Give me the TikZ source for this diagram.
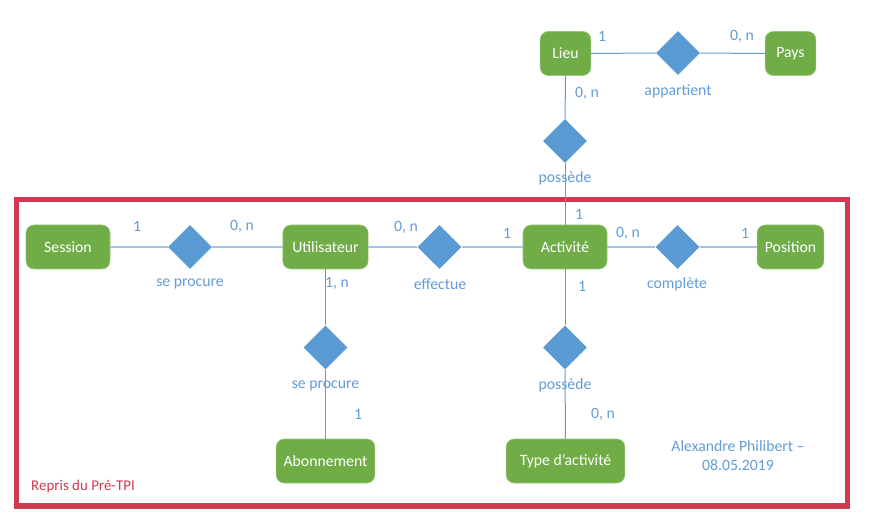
\documentclass[tikz,border=0pt]{standalone}
\usepackage{fontspec}
\setmainfont{Carlito}
\usetikzlibrary{shapes.geometric}
\definecolor{entgreen}{RGB}{112,173,71}
\definecolor{relblue}{RGB}{91,155,213}
\definecolor{lblblue}{RGB}{98,155,215}
\definecolor{lightline}{RGB}{164,194,228}
\definecolor{framered}{RGB}{205,57,78}
\begin{document}
\begin{tikzpicture}[x=0.75pt,y=-0.75pt,
  entity/.style={rectangle,rounded corners=6pt,fill=entgreen,draw=entgreen!70!white,line width=0.4pt,text=white,minimum height=33pt,inner sep=0pt,font=\fontsize{11.8}{14}\selectfont},
  rel/.style={diamond,fill=relblue,draw=none,minimum width=33pt,minimum height=33pt,inner sep=0pt},
  lbl/.style={text=lblblue,font=\fontsize{11.8}{14}\selectfont,inner sep=0pt},
  thinline/.style={draw=relblue,line width=0.75pt},
  thickline/.style={draw=lightline,line width=1.6pt}]
\useasboundingbox (0,0) rectangle (891,530);
% frame
\draw[framered,line width=3.8pt] (16.5,199.5) rectangle (847.5,506);
% entities
\node[entity,minimum width=38pt] (lieu) at (565.5,53.5) {Lieu};
\node[entity,minimum width=38pt] (pays) at (790.5,53.5) {Pays};
\node[entity,minimum width=63pt] (session) at (68,247) {Session};
\node[entity,minimum width=64pt] (util) at (325.5,247) {Utilisateur};
\node[entity,minimum width=63pt] (activ) at (565,247) {Activité};
\node[entity,minimum width=50pt] (pos) at (790.5,247) {Position};
\node[entity,minimum width=74pt] (abo) at (325.5,461) {Abonnement};
\node[entity,minimum width=89pt] (type) at (565.5,461) {Type d\char"27 activité};
% relations
\node[rel] (app) at (678,53) {};
\node[rel] (poss1) at (565,141) {};
\node[rel] (sep1) at (190,247) {};
\node[rel] (eff) at (439.5,247) {};
\node[rel] (comp) at (677.5,247) {};
\node[rel] (sep2) at (325.5,347.5) {};
\node[rel] (poss2) at (565,347.5) {};
% connectors
\draw[thinline] (lieu.east) -- (app.west);
\draw[thinline] (app.east) -- (pays.west);
\draw[thinline] (lieu.south) -- (poss1.north);
\draw[thinline] (poss1.south) -- (activ.north);
\draw[thickline] (session.east) -- (sep1.west);
\draw[thickline] (sep1.east) -- (util.west);
\draw[thickline] (util.east) -- (eff.west);
\draw[thickline] (eff.east) -- (activ.west);
\draw[thickline] (activ.east) -- (comp.west);
\draw[thickline] (comp.east) -- (pos.west);
\draw[thinline] (util.south) -- (sep2.north);
\draw[thinline] (sep2.south) -- (abo.north);
\draw[thinline] (activ.south) -- (poss2.north);
\draw[thinline] (poss2.south) -- (type.north);
% labels
\node[lbl] (l1) at (602,36) {1};
\node[lbl] (l2) at (742,36) {0, n};
\node[lbl] (l3) at (678,91) {appartient};
\node[lbl] (l4) at (587,93) {0, n};
\node[lbl] (l5) at (565,178) {possède};
\node[lbl] (l6) at (137,226) {1};
\node[lbl] (l7) at (242,226) {0, n};
\node[lbl] (l8) at (190,284) {se procure};
\node[lbl] (l9) at (406,227) {0, n};
\node[lbl] (l10) at (507,233) {1};
\node[lbl] (l11) at (440,284) {effectue};
\node[lbl] (l12) at (579,214) {1};
\node[lbl] (l13) at (582,286) {1};
\node[lbl] (l14) at (628,233) {0, n};
\node[lbl] (l15) at (745,233) {1};
\node[lbl] (l16) at (677,284) {complète};
\node[lbl] (l17) at (337,283) {1, n};
\node[lbl] (l18) at (325.5,385.5) {se procure};
\node[lbl] (l19) at (358,414) {1};
\node[lbl] (l20) at (565,385.5) {possède};
\node[lbl] (l21) at (603,414) {0, n};
\node[lbl] (l22) at (738,446) {Alexandre Philibert –};
\node[lbl] (l23) at (738,465.5) {08.05.2019};
\node[lbl,text=framered,font=\fontsize{11.2}{13}\selectfont] (l24) at (83,487) {Repris du Pré-TPI};
\end{tikzpicture}
\end{document}
